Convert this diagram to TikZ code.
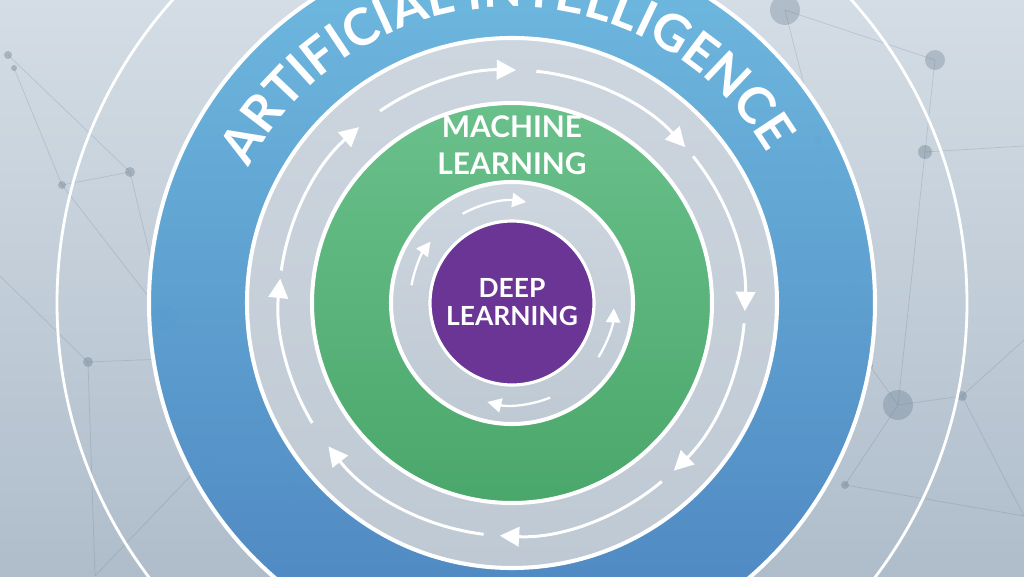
\documentclass[tikz,border=0pt]{standalone}
\usepackage{fontspec}
\setmainfont{Lato}
\usetikzlibrary{arrows.meta,decorations.text}
\definecolor{bgtop}{HTML}{D4DDE5}
\definecolor{bgbot}{HTML}{AFBDCB}
\definecolor{bluetop}{HTML}{6AB8E0}
\definecolor{bluebot}{HTML}{4782BF}
\definecolor{greentop}{HTML}{6AC08B}
\definecolor{greenbot}{HTML}{4AA76B}
\definecolor{purp}{HTML}{6B3596}
\definecolor{bandtop}{HTML}{CDD6DF}
\definecolor{bandbot}{HTML}{BFC9D3}
\definecolor{netc}{HTML}{5E7284}
\begin{document}
\begin{tikzpicture}[x=0.02cm,y=0.02cm,
  ring/.style={draw=white, line width=2.3pt},
  flow/.style={draw=white, line width=1.7pt, -{Triangle[length=11pt,width=11pt]}},
  flowin/.style={draw=white, line width=1.3pt, -{Triangle[length=8pt,width=8pt]}},
  netline/.style={draw=netc, opacity=0.22, line width=0.4pt},
  netdot/.style={fill=netc, opacity=0.35},
  bigdot/.style={fill=netc, opacity=0.3},
  label/.style={text=white, font=\bfseries, align=center, inner sep=0pt}]
\useasboundingbox (0,0) rectangle (1024,576);
\clip (0,0) rectangle (1024,576);
\shade[top color=bgtop, bottom color=bgbot] (0,0) rectangle (1024,576);

% faint background network (pixel y converted to y-up)
\coordinate (n1) at (8,521);
\coordinate (n2) at (14,508);
\coordinate (n3) at (130,404);
\coordinate (n5) at (62,391);
\coordinate (n6) at (88,214);
\coordinate (n7) at (165,258);
\coordinate (n8) at (268,221);
\coordinate (n9) at (265,178);
\coordinate (n10) at (95,0);
\coordinate (n11) at (300,60);
\coordinate (n12) at (785,566);
\coordinate (n13) at (935,516);
\coordinate (n14) at (925,424);
\coordinate (n15) at (898,171);
\coordinate (n16) at (962,180);
\coordinate (n17) at (845,91);
\coordinate (n18) at (1024,236);
\coordinate (n19) at (818,436);
\coordinate (n20) at (870,210);
\coordinate (n21) at (0,300);
\coordinate (n22) at (1024,430);
\coordinate (n23) at (1024,60);
\draw[netline] (n1) -- (n3) -- (n7) (n2) -- (n5) -- (n7) -- (n8) -- (n9) -- (n11)
  (n6) -- (n8) (n6) -- (n10) (n21) -- (n6) (n5) -- (n3) (n7) -- (n9) (n9) -- (n10)
  (n12) -- (n19) -- (n20) -- (n15) (n12) -- (n13) -- (n14) (n14) -- (n22)
  (n15) -- (n16) -- (n18) (n15) -- (n17) (n16) -- (n23) (n17) -- (n23) (n15) -- (n14);
\foreach \p/\r in {n1/4,n2/3,n3/5,n5/4,n6/5,n9/4,n14/7,n16/5,n17/4,n19/4,n20/3}
  \fill[netdot] (\p) circle[radius=\r];
\foreach \p/\r in {n7/13,n8/10,n12/15,n13/10,n15/15}
  \fill[bigdot] (\p) circle[radius=\r];

\coordinate (c) at (512,273);
% outer thin ring
\draw[white, line width=1.6pt] (c) circle[radius=455];
% AI band
\shade[top color=bluetop, bottom color=bluebot, opacity=0.95] (c) circle[radius=363];
\draw[ring] (c) circle[radius=363];
% ML outer band
\shade[top color=bandtop, bottom color=bandbot] (c) circle[radius=265];
\draw[ring] (c) circle[radius=265];
% ML disc
\shade[top color=greentop, bottom color=greenbot] (c) circle[radius=200];
\draw[ring] (c) circle[radius=200];
% DL band
\shade[top color=bandtop, bottom color=bandbot] (c) circle[radius=121];
\draw[ring] (c) circle[radius=121];
% DL disc
\fill[purp] (c) circle[radius=82];
\draw[ring, line width=1.8pt] (c) circle[radius=82];

% outer flow arrows (clockwise)
\begin{scope}[shift={(c)}]
\foreach \a/\b in {124.5/89, 84/42, 39/-2, -5/-46, -50/-93, -97/-142, -149/-186, 172/131}
  \draw[flow] (\a:233) arc[start angle=\a, end angle=\b, radius=233];
% inner flow arrows
\foreach \a/\b in {119/82, 170/143, -32/-3, -68/-104}
  \draw[flowin] (\a:102) arc[start angle=\a, end angle=\b, radius=102];
% curved title
\path[decorate, decoration={text along path,
    text={|\bfseries\fontsize{29}{29}\selectfont|ARTIFICIAL INTELLIGENCE},
    text align=center, text color=white}]
  (181.6:296) arc[start angle=181.6, end angle=1.6, radius=296];
\end{scope}

\node[label, font=\bfseries\fontsize{17}{21}\selectfont] (ml) at (512,431) {MACHINE\\LEARNING};
\node[label, font=\bfseries\fontsize{15}{16}\selectfont] (dl) at (512,274) {DEEP\\LEARNING};
\end{tikzpicture}
\end{document}
